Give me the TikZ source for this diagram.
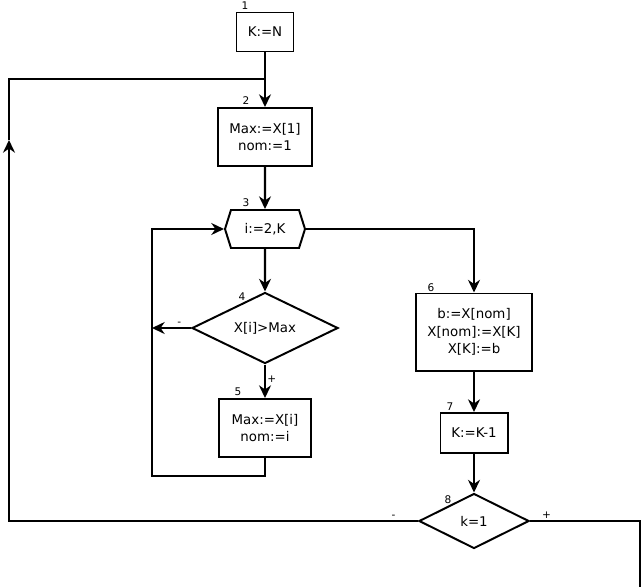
\documentclass[tikz,border=0pt]{standalone}
\usepackage{fontspec}
\setmainfont{DejaVu Sans}
\usetikzlibrary{arrows.meta,shapes.geometric,shapes.symbols}

\tikzset{
  blk/.style={draw,line width=1.4pt,align=center,inner sep=0pt},
  cond/.style={draw,diamond,line width=1.4pt,inner sep=0pt,shape aspect=2},
  cyc/.style={draw,signal,signal to=west and east,signal pointer angle=145,line width=1.4pt,inner sep=0pt},
  num/.style={font=\fontsize{7.5}{8}\selectfont,inner sep=0pt},
  sgn/.style={font=\fontsize{7.5}{8}\selectfont,inner sep=1pt},
}

\begin{document}
\begin{tikzpicture}[x=0.025cm,y=-0.025cm,>={Stealth[length=9pt,width=8.5pt]},line width=1.5pt,
  font=\fontsize{9.5}{12.5}\selectfont]
    \useasboundingbox (0,0) rectangle (643,587);

    \node[blk,minimum width=1.425cm,minimum height=0.975cm] (b1) at (265,32) {K:=N};
    \node[blk,minimum width=2.35cm,minimum height=1.45cm] (b2) at (265,137) {Max:=X[1]\\nom:=1};
    \node[cyc,minimum width=2.0cm,minimum height=0.95cm] (b3) at (265,229) {i:=2,K};
    \node[cond,minimum width=3.65cm,minimum height=1.775cm] (b4) at (265,328) {X[i]>Max};
    \node[blk,minimum width=2.3cm,minimum height=1.45cm] (b5) at (265,428) {Max:=X[i]\\nom:=i};
    \node[blk,minimum width=2.9cm,minimum height=1.925cm] (b6) at (474,332) {b:=X[nom]\\X[nom]:=X[K]\\X[K]:=b};
    \node[blk,minimum width=1.675cm,minimum height=1.0cm] (b7) at (474,433) {K:=K-1};
    \node[cond,minimum width=2.75cm,minimum height=1.375cm] (b8) at (474,521) {k=1};

    % numbers
    \node[num] (n1) at (245,6) {1};
    \node[num] (n2) at (246,101) {2};
    \node[num] (n3) at (246,203) {3};
    \node[num] (n4) at (242,297) {4};
    \node[num] (n5) at (238,392) {5};
    \node[num] (n6) at (431,288) {6};
    \node[num] (n7) at (450,407) {7};
    \node[num] (n8) at (448,500) {8};

    \coordinate (top) at (265,79);
    \coordinate (lt) at (9,79);
    \coordinate (mid) at (9,140);
    \coordinate (lb) at (9,521);
    \coordinate (rb) at (640,521);
    \coordinate (re) at (640,587);
    \coordinate (m4) at (152,328);
    \coordinate (l1) at (265,476);
    \coordinate (l2) at (152,476);
    \coordinate (l3) at (152,229);

    \draw[->] (b1) -- (b2);
    \draw[->] (b2) -- (b3);
    \draw[->] (b3) -- (b4);
    \draw[->] (b4) -- node[sgn,right,pos=0.45]{+} (b5);
    \draw[->] (b4.west) -- node[sgn,above,pos=0.3]{-} (m4);
    \draw[->] (b5.south) -- (l1) -- (l2) -- (l3) -- (b3.west);
    \draw[->] (b3.east) -| (b6.north);
    \draw[->] (b6) -- (b7);
    \draw[->] (b7) -- (b8);
    \draw (b8.east) -- node[sgn,above,pos=0.15]{+} (rb) -- (re);
    \draw[->] (b8.west) -- node[sgn,above,pos=0.06]{-} (lb) -- (mid);
    \draw (mid) -- (lt) -- (top);
\end{tikzpicture}
\end{document}
